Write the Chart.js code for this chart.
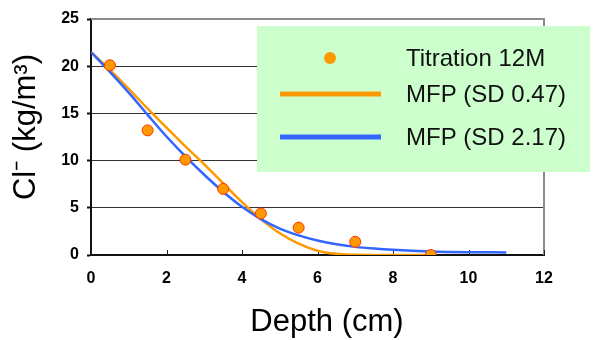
<!DOCTYPE html>
<html>
<head>
<meta charset="utf-8">
<script src="https://cdn.jsdelivr.net/npm/chart.js@4.4.0/dist/chart.umd.min.js"></script>
<style>
    html, body { margin: 0; padding: 0; background: #fff; }
    #chart { display: block; }
</style>
</head>
<body>
<canvas id="chart" width="593" height="340"></canvas>
<script>
//=================================================
//Data
//=================================================
const pointDepth = [0.5, 1.5, 2.5, 3.5, 4.5, 5.5, 7, 9];
const titration = [20.1, 13.2, 10.1, 7.0, 4.4, 2.9, 1.4, 0.0];

const depth047 = [0, 0.5, 1, 1.5, 2, 2.5, 3, 3.5, 4, 4.5, 5, 5.5, 6, 6.5, 7, 8, 9];
const mfp047 = [21.5, 19.6, 17.6, 15.5, 13.5, 11.5, 9.6, 7.6, 5.6, 3.8, 2.3, 1.2, 0.45, 0.12, 0.03, 0, 0];

const depth217 = [0, 0.5, 1, 1.5, 2, 2.5, 3, 3.5, 4, 4.5, 5, 5.5, 6, 6.5, 7, 7.5, 8, 9, 10, 11];
const mfp217 = [21.5, 19.4, 17.2, 14.85, 12.55, 10.45, 8.5, 6.7, 5.1, 3.8, 2.8, 2.08, 1.53, 1.13, 0.86, 0.68, 0.55, 0.38, 0.3, 0.27];

const seriesNames = ["Titration 12M", "MFP (SD 0.47)", "MFP (SD 2.17)"];
const xTitle = "Depth (cm)";
const yTitle = "Cl\u207B (kg/m\u00B3)";

const toXY = (xs, ys) => xs.map((x, i) => ({ x: x, y: ys[i] }));
const FAMILY = "'Liberation Sans', Arial, sans-serif";

//=================================================
//Plugins
//=================================================
const frame = {
    id: "frame",
    beforeDatasetsDraw(chart) {
        const { ctx, chartArea: a, scales } = chart;
        ctx.save();
        // grey top / right border
        ctx.strokeStyle = "#8c8c8c";
        ctx.lineWidth = 2;
        ctx.beginPath();
        ctx.moveTo(a.left, a.top);
        ctx.lineTo(a.right, a.top);
        ctx.lineTo(a.right, a.bottom);
        ctx.stroke();
        // x ticks pointing inward
        ctx.strokeStyle = "#222";
        ctx.lineWidth = 1;
        scales.x.ticks.forEach((t) => {
            const px = Math.round(scales.x.getPixelForValue(t.value)) + 0.5;
            ctx.beginPath();
            ctx.moveTo(px, a.bottom);
            ctx.lineTo(px, a.bottom - 5);
            ctx.stroke();
        });
        // axis titles (a little off the plot centre, as in the original)
        ctx.fillStyle = "#000";
        ctx.textAlign = "center";
        ctx.textBaseline = "middle";
        ctx.font = "31px " + FAMILY;
        ctx.fillText(xTitle, 327, 322);
        ctx.translate(26, 127);
        ctx.rotate(-Math.PI / 2);
        ctx.fillText(yTitle, 0, 0);
        ctx.restore();
    },
};

const boxLegend = {
    id: "boxLegend",
    afterDraw(chart) {
        const ctx = chart.ctx;
        const ds = chart.data.datasets;
        ctx.save();
        ctx.fillStyle = "#ccffcc";
        ctx.fillRect(257, 26, 333, 146);
        const rows = [58, 94, 137];
        ctx.font = "24px " + FAMILY;
        ctx.textBaseline = "middle";
        ds.forEach((d, i) => {
            const y = rows[i];
            if (d.showLine) {
                ctx.strokeStyle = d.borderColor;
                ctx.lineWidth = 5;
                ctx.beginPath();
                ctx.moveTo(280, y);
                ctx.lineTo(381, y);
                ctx.stroke();
            } else {
                ctx.fillStyle = "#ff9900";
                ctx.beginPath();
                ctx.arc(330, y, 6, 0, Math.PI * 2);
                ctx.fill();
            }
            ctx.fillStyle = "#111";
            ctx.fillText(d.label, 406, y + 1);
        });
        ctx.restore();
    },
};

//=================================================
//Chart.js
//=================================================
const drawChart = () => {
    const tickFont = { size: 16, weight: "bold", family: FAMILY };

    const data = {
        datasets: [
            {
                label: seriesNames[0],
                data: toXY(pointDepth, titration),
                showLine: false,
                backgroundColor: "#ff9900",
                borderColor: "#ff3300",
                pointRadius: 5.5,
                pointBorderWidth: 1,
                order: 0,
            },
            {
                label: seriesNames[1],
                data: toXY(depth047, mfp047),
                showLine: true,
                borderColor: "#ff9900",
                borderWidth: 2.5,
                pointRadius: 0,
                cubicInterpolationMode: "monotone",
                order: 2,
            },
            {
                label: seriesNames[2],
                data: toXY(depth217, mfp217),
                showLine: true,
                borderColor: "#3366ff",
                borderWidth: 2.5,
                pointRadius: 0,
                cubicInterpolationMode: "monotone",
                order: 1,
            },
        ],
    };

    const config = {
        type: "scatter",
        data: data,
        options: {
            responsive: false,
            animation: false,
            layout: {
                padding: { top: 19, right: 49, left: 0, bottom: 0 },
            },
            scales: {
                x: {
                    type: "linear",
                    min: 0,
                    max: 12,
                    afterFit: (s) => { s.height = 85; },
                    grid: { display: false, drawTicks: false },
                    border: { color: "#111", width: 2 },
                    ticks: {
                        stepSize: 2,
                        padding: 14,
                        color: "#000",
                        font: tickFont,
                    },
                },
                y: {
                    min: 0,
                    max: 25,
                    afterFit: (s) => { s.width = 91; },
                    grid: {
                        color: (c) => (c.tick.value === 0 || c.tick.value === 25 ? "rgba(0,0,0,0)" : "#333"),
                        tickColor: "#111",
                        tickLength: 4,
                        tickWidth: 2,
                    },
                    border: { color: "#111", width: 2 },
                    ticks: {
                        stepSize: 5,
                        padding: 8,
                        color: "#000",
                        font: tickFont,
                    },
                },
            },
            plugins: {
                legend: { display: false },
                tooltip: { enabled: false },
            },
        },
        plugins: [frame, boxLegend],
    };

    new Chart(document.getElementById("chart"), config);
};

drawChart();
</script>
</body>
</html>
